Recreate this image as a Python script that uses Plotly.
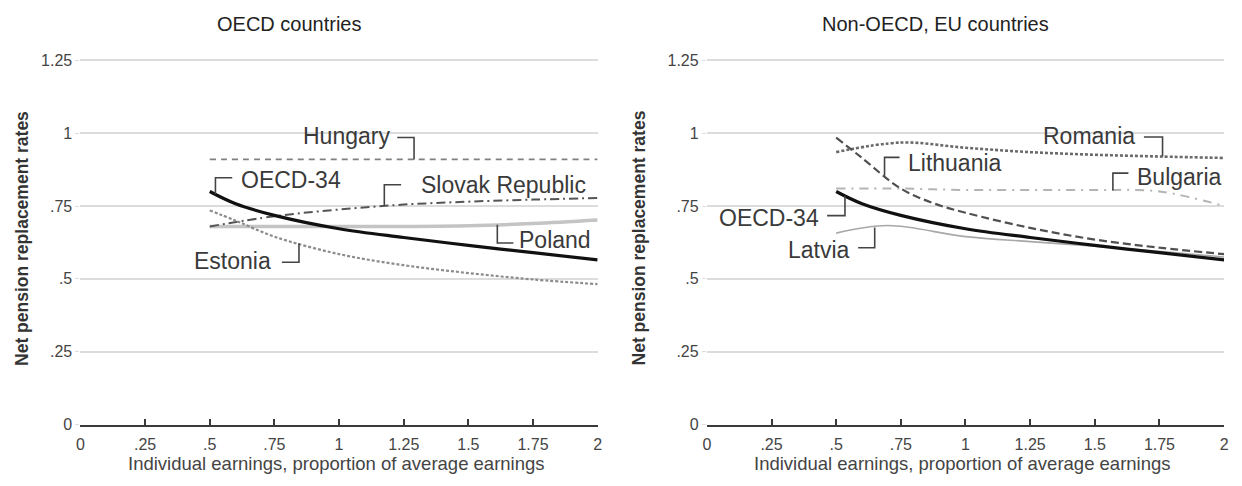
import numpy as np
import plotly.graph_objects as go

# Individual earnings as a multiple of average earnings
earn_a = [0.5, 0.6, 0.75, 1.0, 1.25, 1.5, 1.75, 2.0]
earn_b = [0.5, 0.75, 1.0, 1.25, 1.5, 1.75, 2.0]
earn_lt = [0.5, 0.6, 0.75, 0.875, 1.0, 1.25, 1.5, 1.75, 2.0]
earn_latvia = [0.5, 0.7, 1.0, 1.25, 1.5, 1.75, 2.0]

# Net pension replacement rates
oecd34 = [0.80, 0.758, 0.718, 0.672, 0.642, 0.615, 0.59, 0.565]
hungary = [0.91, 0.91, 0.91, 0.91, 0.91, 0.91, 0.91]
slovak = [0.68, 0.715, 0.738, 0.755, 0.765, 0.772, 0.778]
poland = [0.68, 0.68, 0.68, 0.68, 0.682, 0.69, 0.702]
estonia = [0.735, 0.70, 0.645, 0.585, 0.547, 0.52, 0.498, 0.482]
romania = [0.935, 0.968, 0.95, 0.935, 0.926, 0.92, 0.915]
lithuania = [0.985, 0.915, 0.81, 0.76, 0.727, 0.675, 0.635, 0.607, 0.585]
bulgaria = [0.81, 0.81, 0.805, 0.805, 0.805, 0.80, 0.75]
latvia = [0.657, 0.683, 0.645, 0.628, 0.612, 0.595, 0.575]

x_ticks = [0, 0.25, 0.5, 0.75, 1, 1.25, 1.5, 1.75, 2]
x_ticktext = ["0", ".25", ".5", ".75", "1", "1.25", "1.5", "1.75", "2"]
y_ticks = [0, 0.25, 0.5, 0.75, 1, 1.25]
y_ticktext = ["0", ".25", ".5", ".75", "1", "1.25"]

FONT = "Liberation Sans, Arial, sans-serif"
W, H = 1242, 486

# (name, x, y, panel, color, width, dash) — drawn back to front
series = [
    ("Poland", earn_b, poland, 1, "#c4c4c4", 3.5, "solid"),
    ("Hungary", earn_b, hungary, 1, "#808080", 1.6, "6px,5px"),
    ("Slovak Republic", earn_b, slovak, 1, "#555555", 2.0, "9px,4px,2px,4px"),
    ("Estonia", earn_a, estonia, 1, "#8c8c8c", 2.2, "3px,2px"),
    ("OECD-34", earn_a, oecd34, 1, "#111111", 3.2, "solid"),
    ("Bulgaria", earn_b, bulgaria, 2, "#b4b4b4", 2.0, "9px,6px,2px,6px"),
    ("Romania", earn_b, romania, 2, "#6a6a6a", 2.6, "3px,2px"),
    ("Latvia", earn_latvia, latvia, 2, "#a8a8a8", 1.6, "solid"),
    ("Lithuania", earn_lt, lithuania, 2, "#505050", 2.2, "8px,4px"),
    ("OECD-34", earn_a, oecd34, 2, "#111111", 3.2, "solid"),
]

# Label placement: anchor on the curve, elbow height, elbow end, text position
labels = [
    # name, panel, x_anchor, y_elbow, x_elbow_end, x_text, y_text, text_anchor
    ("Hungary", 1, 1.29, 0.985, 1.225, 1.205, 0.99, "right"),
    ("OECD-34", 1, 0.522, 0.847, 0.587, 0.612, 0.84, "left"),
    ("Slovak Republic", 1, 1.175, 0.823, 1.24, 1.31, 0.823, "left"),
    ("Poland", 1, 1.612, 0.623, 1.674, 1.69, 0.632, "left"),
    ("Estonia", 1, 0.845, 0.557, 0.779, 0.745, 0.562, "right"),
    ("Romania", 2, 1.762, 0.987, 1.69, 1.665, 0.99, "right"),
    ("Lithuania", 2, 0.687, 0.917, 0.745, 0.77, 0.897, "left"),
    ("Bulgaria", 2, 1.57, 0.863, 1.63, 1.655, 0.848, "left"),
    ("OECD-34", 2, 0.534, 0.717, 0.465, 0.44, 0.708, "right"),
    ("Latvia", 2, 0.649, 0.607, 0.585, 0.56, 0.6, "right"),
]

fig = go.Figure()


def axis_ids(panel):
    return ("x", "y") if panel == 1 else ("x2", "y2")


for name, xs, ys, panel, color, width, dash in series:
    xa, ya = axis_ids(panel)
    fig.add_trace(go.Scatter(
        x=xs, y=ys, mode="lines", name=name, xaxis=xa, yaxis=ya,
        line=dict(color=color, width=width, dash=dash, shape="spline", smoothing=1.0),
        showlegend=False, hoverinfo="skip",
    ))

lookup = {}
for name, xs, ys, panel, *_ in series:
    lookup[(name, panel)] = (xs, ys)

annotations = []
for name, panel, xa_, ye, xe, xt, yt, anchor in labels:
    xs, ys = lookup[(name, panel)]
    y_on = float(np.interp(xa_, xs, ys))
    xa, ya = axis_ids(panel)
    fig.add_trace(go.Scatter(
        x=[xa_, xa_, xe], y=[y_on, ye, ye], mode="lines", xaxis=xa, yaxis=ya,
        line=dict(color="#444444", width=1.6), showlegend=False, hoverinfo="skip",
    ))
    annotations.append(dict(
        x=xt, y=yt, xref=xa, yref=ya, text=name, showarrow=False,
        xanchor=anchor, yanchor="middle",
        font=dict(family=FONT, size=23, color="#3a3a3a"),
    ))

# Panel titles, axis titles
for cx, title in [(288, "OECD countries"), (938, "Non-OECD, EU countries")]:
    annotations.append(dict(
        x=cx / W, y=1 - 20 / H, xref="paper", yref="paper", text=title,
        showarrow=False, xanchor="center", yanchor="middle",
        font=dict(family=FONT, size=20, color="#222222"),
    ))
for cx in [335, 965]:
    annotations.append(dict(
        x=cx / W, y=1 - 472 / H, xref="paper", yref="paper",
        text="Individual earnings, proportion of average earnings",
        showarrow=False, xanchor="center", yanchor="middle",
        font=dict(family=FONT, size=18.5, color="#444444"),
    ))
for cx in [18, 640]:
    annotations.append(dict(
        x=cx / W, y=1 - 240 / H, xref="paper", yref="paper",
        text="<b>Net pension replacement rates</b>", textangle=-90,
        showarrow=False, xanchor="center", yanchor="middle",
        font=dict(family=FONT, size=17.5, color="#333333"),
    ))

y_px0, y_unit = 432, 300  # pixel of zero, pixels per unit
y_top = 1.26
ydom = [(H - y_px0) / H, (H - (y_px0 - y_top * y_unit)) / H]

xaxis_common = dict(
    range=[0, 2], tickvals=x_ticks, ticktext=x_ticktext,
    showgrid=False, zeroline=False, showline=True, linecolor="#3a3a3a", linewidth=2,
    ticks="inside", ticklen=6, tickwidth=1.5, tickcolor="#3a3a3a",
    tickfont=dict(family=FONT, size=16, color="#444444"),
    ticklabelstandoff=4,
)
yaxis_common = dict(
    range=[0, y_top], domain=ydom, tickvals=y_ticks, ticktext=y_ticktext,
    showgrid=True, gridcolor="#dcdcdc", gridwidth=1.5, zeroline=False, showline=False,
    ticks="outside", ticklen=4, tickcolor="#dddddd",
    tickfont=dict(family=FONT, size=16, color="#444444"),
)

fig.update_layout(
    width=W, height=H, margin=dict(l=0, r=0, t=0, b=0),
    paper_bgcolor="white", plot_bgcolor="white",
    xaxis=dict(domain=[77 / W, 598 / W], anchor="y", **xaxis_common),
    yaxis=dict(anchor="x", **yaxis_common),
    xaxis2=dict(domain=[708 / W, 1229 / W], anchor="y2", **xaxis_common),
    yaxis2=dict(anchor="x2", **yaxis_common),
    annotations=annotations,
)

fig.write_html("out.html")
